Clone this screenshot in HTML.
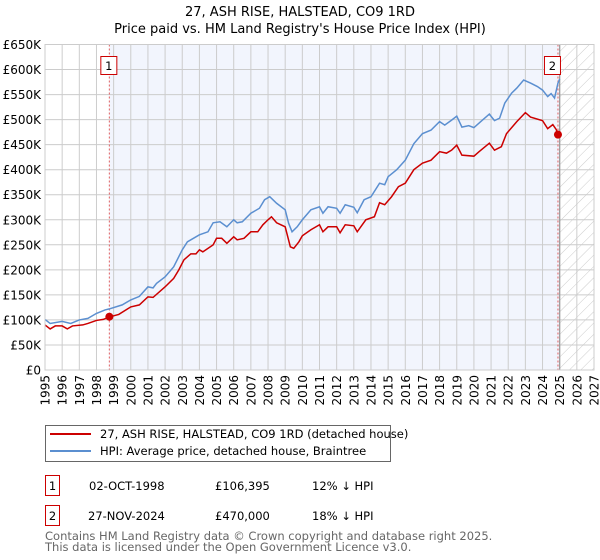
<!DOCTYPE html>
<html><head><meta charset="utf-8"><style>
body{margin:0;background:#fff;}
svg{display:block;font-family:"DejaVu Sans","Liberation Sans",sans-serif;}
</style></head><body>
<svg id="chart" width="600" height="560" viewBox="0 0 600 560" xmlns="http://www.w3.org/2000/svg">
<defs><pattern id="hatch" width="8" height="8" patternUnits="userSpaceOnUse" patternTransform="rotate(45)"><line x1="0" y1="0" x2="0" y2="8" stroke="#ccc" stroke-width="1"/></pattern></defs>
<text x="300" y="16" text-anchor="middle" font-size="13">27, ASH RISE, HALSTEAD, CO9 1RD</text>
<text x="300" y="33" text-anchor="middle" font-size="13">Price paid vs. HM Land Registry's House Price Index (HPI)</text>
<g id="plot"></g>
<g>
<rect x="45.5" y="425.5" width="345" height="36" fill="#fff" stroke="#666"/>
<line x1="50" y1="434" x2="91" y2="434" stroke="#cc0000" stroke-width="2"/>
<text x="100" y="438" font-size="11.5">27, ASH RISE, HALSTEAD, CO9 1RD (detached house)</text>
<line x1="50" y1="451" x2="91" y2="451" stroke="#5b8fd0" stroke-width="2"/>
<text x="100" y="455" font-size="11.5">HPI: Average price, detached house, Braintree</text>
</g>
<g font-size="11.5">
<rect x="45.5" y="475.5" width="14" height="20" fill="#fff" stroke="#cc0000"/>
<text x="52.5" y="490" text-anchor="middle">1</text>
<text x="89" y="490">02-OCT-1998</text><text x="215" y="490">£106,395</text><text x="312" y="490">12% ↓ HPI</text>
<rect x="45.5" y="505.5" width="14" height="20" fill="#fff" stroke="#cc0000"/>
<text x="52.5" y="520" text-anchor="middle">2</text>
<text x="88" y="520">27-NOV-2024</text><text x="215" y="520">£470,000</text><text x="312" y="520">18% ↓ HPI</text>
</g>
<text x="45" y="540" font-size="11.5" fill="#666">Contains HM Land Registry data © Crown copyright and database right 2025.</text>
<text x="45" y="551" font-size="11.5" fill="#666">This data is licensed under the Open Government Licence v3.0.</text>
</svg>
<script>
const hpiYears=[1995,1995.3,1996,1996.5,1997,1997.5,1998,1998.5,1998.75,1999.5,2000,2000.5,2001,2001.3,2001.5,2002,2002.5,2003,2003.3,2004,2004.5,2004.8,2005.2,2005.6,2006,2006.2,2006.5,2007,2007.5,2007.8,2008.1,2008.5,2009,2009.2,2009.4,2009.7,2010,2010.5,2011,2011.2,2011.5,2012,2012.2,2012.5,2013,2013.2,2013.6,2014,2014.5,2014.8,2015,2015.5,2016,2016.5,2017,2017.5,2018,2018.3,2018.7,2019,2019.3,2019.7,2020,2020.4,2020.9,2021.2,2021.5,2021.8,2022.2,2022.5,2022.9,2023.3,2023.7,2024,2024.3,2024.5,2024.7,2024.9,2025];
const hpiValues=[101,93,97,93,100,103,113,120,122,130,140,147,166,164,173,186,206,240,256,270,276,294,296,286,300,294,296,313,323,340,346,333,320,293,276,286,300,320,326,313,326,323,313,330,325,314,340,346,373,370,386,400,419,452,472,479,496,489,499,507,485,488,484,496,511,498,503,533,553,563,579,573,566,559,546,552,543,573,581];
const ppYears=[1995,1995.3,1995.6,1996,1996.3,1996.6,1997.2,1997.5,1998,1998.4,1998.75,1999.3,2000,2000.5,2001,2001.3,2002,2002.5,2002.8,2003.1,2003.5,2003.8,2004,2004.2,2004.8,2005,2005.3,2005.6,2006,2006.2,2006.6,2007,2007.4,2007.7,2008,2008.2,2008.5,2009,2009.3,2009.5,2009.8,2010,2010.5,2011,2011.2,2011.5,2012,2012.2,2012.5,2013,2013.2,2013.7,2014.2,2014.5,2014.8,2015.2,2015.6,2016,2016.5,2017,2017.5,2018,2018.4,2018.7,2019,2019.3,2020,2020.3,2020.9,2021.2,2021.6,2021.9,2022.5,2023,2023.3,2024,2024.3,2024.6,2024.8,2024.9];
const ppValues=[90,82,88,88,82,88,90,93,99,101,106,111,126,130,146,145,166,183,200,220,232,232,240,236,250,263,263,253,266,260,263,276,276,290,300,306,294,286,246,243,256,268,280,290,276,286,286,274,290,288,276,300,306,334,330,346,366,373,400,413,419,436,433,439,449,429,427,436,453,439,446,472,496,514,505,498,482,490,480,470];
const saleYears=[1998.75,2024.9];
const saleValues=[106.395,470];
const yTicks=[0,50,100,150,200,250,300,350,400,450,500,550,600,650];
const xTicks=[1995,1996,1997,1998,1999,2000,2001,2002,2003,2004,2005,2006,2007,2008,2009,2010,2011,2012,2013,2014,2015,2016,2017,2018,2019,2020,2021,2022,2023,2024,2025,2026,2027];
const X0=45,X1=594,Y0=370,Y1=44.5;
const xs=y=>X0+(y-1995)/32*(X1-X0);
const ys=v=>Y0-v/650*(Y0-Y1);
const NS="http://www.w3.org/2000/svg";
const g=document.getElementById('plot');
function mk(t,a,p){const e=document.createElementNS(NS,t);for(const k in a)e.setAttribute(k,a[k]);(p||g).appendChild(e);return e;}
const bg=mk('rect',{x:xs(1998.75),y:Y1,width:xs(2025)-xs(1998.75),height:Y0-Y1,fill:'#f2f5fd'});


const ht=mk('rect',{x:xs(2025),y:Y1,width:X1-xs(2025),height:Y0-Y1,fill:'url(#hatch)'});


yTicks.forEach(v=>{
 const l=mk('line',{x1:X0,x2:X1,y1:ys(v),y2:ys(v),stroke:'#ccc','stroke-width':1});
 
 
 const t=mk('text',{x:X0-4,y:ys(v)+4.5,'text-anchor':'end','font-size':12});
 t.textContent=v===0?'£0':'£'+v+'K';
 
 
});
xTicks.forEach(yr=>{
 const l=mk('line',{x1:xs(yr),x2:xs(yr),y1:Y1,y2:Y0,stroke:'#ccc','stroke-width':1});
 
 
 const t=mk('text',{x:0,y:0,'font-size':12,'text-anchor':'end',transform:`translate(${xs(yr)+4.5},${Y0+5}) rotate(-90)`});
 t.textContent=yr;
 
 
});
const vl=mk('line',{x1:xs(2025),x2:xs(2025),y1:Y1,y2:Y0,stroke:'#999','stroke-width':1.2});


saleYears.forEach((yr,i)=>{
 const d=mk('line',{x1:xs(yr),x2:xs(yr),y1:Y1,y2:Y0,stroke:'#e06060','stroke-width':1,'stroke-dasharray':'2,2'});
 
 
});
const hp=mk('polyline',{points:hpiYears.map((y,i)=>xs(y)+','+ys(hpiValues[i])).join(' '),fill:'none',stroke:'#5b8fd0','stroke-width':1.5});


const pp=mk('polyline',{points:ppYears.map((y,i)=>xs(y)+','+ys(ppValues[i])).join(' '),fill:'none',stroke:'#cc0000','stroke-width':1.5});


saleYears.forEach((yr,i)=>{
 const c=mk('circle',{cx:xs(yr),cy:ys(saleValues[i]),r:4,fill:'#cc0000'});
 
 
 const bx=xs(yr)-(i===0?0:5);
 const r=mk('rect',{x:bx-8.5,y:56.5,width:16,height:18,fill:'#fff',stroke:'#cc0000'});
 
 
 const t=mk('text',{x:bx-0.5,y:70,'text-anchor':'middle','font-size':11.5});
 t.textContent=String(i+1);
 
 
});
const fr=mk('rect',{x:X0,y:Y1,width:X1-X0,height:Y0-Y1,fill:'none',stroke:'#ccc'});


</script>
</body></html>
